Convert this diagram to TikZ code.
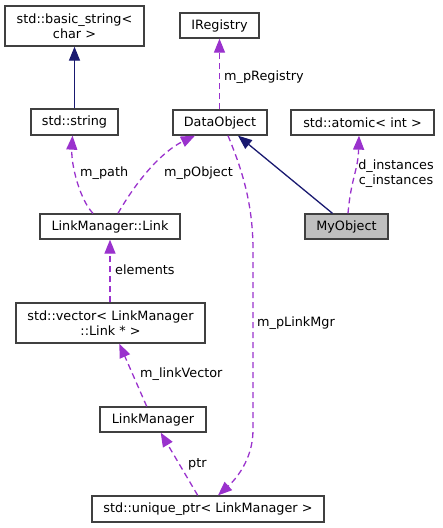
\documentclass[tikz,border=0pt]{standalone}
\usepackage{fontspec}
\setmainfont{DejaVu Sans}
\usetikzlibrary{arrows.meta}
\definecolor{inhcol}{HTML}{191970}
\definecolor{depcol}{HTML}{9A32CD}
\definecolor{boxcol}{HTML}{404040}
\definecolor{myfill}{HTML}{BFBFBF}
\begin{document}
\begin{tikzpicture}[x=1pt,y=-1pt,
  font=\fontsize{12.8}{15}\selectfont,
  cbox/.style={draw=boxcol,line width=1.3pt,fill=white,inner sep=0pt,align=center},
  inh/.style={draw=inhcol,line width=1.3pt,-{Triangle[length=14pt,width=11pt]}},
  dep/.style={draw=depcol,line width=1.3pt,dash pattern=on 6pt off 4pt,-{Triangle[length=14pt,width=11pt]}},
  lab/.style={anchor=west,inner sep=0pt}]
\useasboundingbox (0,0) rectangle (443,528);
\node[cbox,minimum width=139pt,minimum height=40pt] (bs) at (74.5,26) {std::basic\_string<\\char >};
\node[cbox,minimum width=87pt,minimum height=26pt] (str) at (74.5,122) {std::string};
\node[cbox,minimum width=79pt,minimum height=25pt] (ireg) at (219.5,25.5) {IRegistry};
\node[cbox,minimum width=94pt,minimum height=25pt] (dobj) at (220,122.5) {DataObject};
\node[cbox,minimum width=143pt,minimum height=25pt] (atom) at (362.5,122.5) {std::atomic< int >};
\node[cbox,fill=myfill,minimum width=83pt,minimum height=25pt] (myobj) at (346.5,226.5) {MyObject};
\node[cbox,minimum width=140pt,minimum height=25pt] (link) at (110,226.5) {LinkManager::Link};
\node[cbox,minimum width=189pt,minimum height=40pt] (vec) at (110.5,323) {std::vector< LinkManager\\::Link * >};
\node[cbox,minimum width=106pt,minimum height=25pt] (lm) at (153,419.5) {LinkManager};
\node[cbox,minimum width=232pt,minimum height=26pt] (uptr) at (208,509) {std::unique\_ptr< LinkManager >};

% inheritance
\draw[inh] (str.north) -- (bs.south);
\draw[inh] ([xshift=-14pt]myobj.north) -- ([xshift=18pt]dobj.south);

% usage
\draw[dep] (ireg.south |- dobj.north) -- (ireg.south);
\node[lab] (l1) at (224,77) {m\_pRegistry};

\draw[dep] ([xshift=1.5pt]myobj.north) .. controls +(3,-35) and +(-1,35) .. ([xshift=-3.5pt]atom.south);
\node[align=center,inner sep=0pt] (l2) at (396,173.5) {d\_instances\\c\_instances};

\draw[dep] ([xshift=-17pt]link.north) .. controls (80,200) and (71,165) .. ([xshift=-2pt]str.south);
\node[lab] (l3) at (80,173) {m\_path};

\draw[dep] ([xshift=8pt]link.north) .. controls (140,175) and (165,150) .. ([xshift=-25pt]dobj.south);
\node[lab] (l4) at (164,173) {m\_pObject};

\draw[dep] (link.south |- vec.north) -- (link.south);
\node[lab] (l5) at (115,270) {elements};

\draw[dep] ([xshift=-6.3pt]lm.north) -- ([xshift=8.8pt]vec.south);
\node[lab] (l6) at (140,374) {m\_linkVector};

\draw[dep] ([xshift=-10.3pt]uptr.north) -- ([xshift=7.7pt]lm.south);
\node[lab] (l7) at (188,464) {ptr};

\draw[dep] ([xshift=8pt]dobj.south) .. controls (240,165) and (253,200) .. (253,250) -- (253,430) .. controls (253,460) and (235,480) .. ([xshift=10pt]uptr.north);
\node[lab] (l8) at (257,323) {m\_pLinkMgr};
\end{tikzpicture}
\end{document}
